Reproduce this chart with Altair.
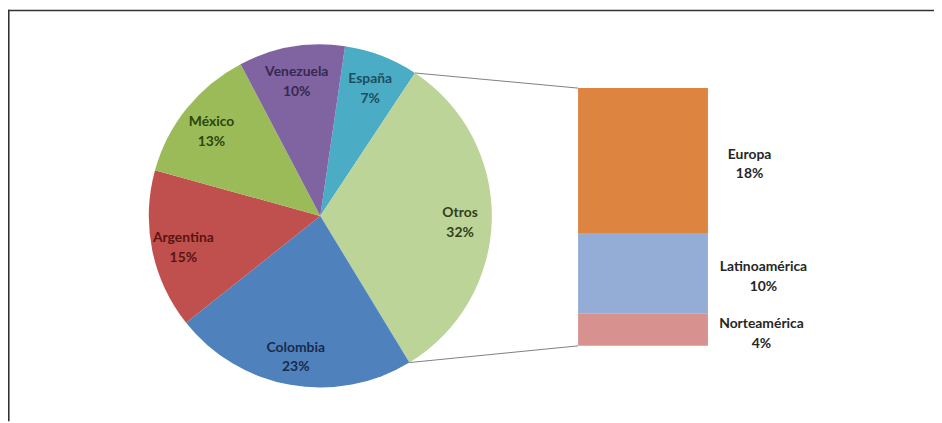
import math
import altair as alt
import pandas as pd

# ---- data ----
categories = ["España", "Otros", "Colombia", "Argentina", "México", "Venezuela"]
shares = [7, 32, 23, 15, 13, 10]
sub_categories = ["Norteamérica", "Latinoamérica", "Europa"]
sub_shares = [4, 10, 18]

# ---- style ----
pie_colors = ["#4BACC6", "#BDD498", "#4F81BD", "#C0504D", "#9BBB59", "#8064A2"]
pie_text_colors = ["#1d4f5e", "#323f1c", "#192b4a", "#5a1412", "#2b470f", "#37284f"]
bar_colors = ["#D79290", "#93ADD6", "#DD8440"]
FONT = "Lato"
FS = 14
LH = 20
W, H = 934, 415
CX, CY, R = 315, 208, 173
START_DEG = 8.3
BAR_X0, BAR_X1 = 575, 706
BAR_TOP, BAR_BOTTOM = 79, 339

pie_df = pd.DataFrame({
    "cat": categories,
    "value": shares,
    "ord": list(range(len(categories))),
    "label": [f"{c}\n{v}%" for c, v in zip(categories, shares)],
})
bar_df = pd.DataFrame({
    "cat": sub_categories,
    "value": sub_shares,
    "ord": list(range(len(sub_categories))),
    "label": [f"{c}\n{v}%" for c, v in zip(sub_categories, sub_shares)],
})

start = math.radians(START_DEG)
total = sum(shares)

theta_scale = alt.Scale(range=[start, start + 2 * math.pi], zero=True)

arcs = alt.Chart(pie_df).mark_arc(outerRadius=R).encode(
    theta=alt.Theta("value:Q", stack=True, scale=theta_scale),
    order=alt.Order("ord:Q"),
    color=alt.Color("cat:N", scale=alt.Scale(domain=categories, range=pie_colors), legend=None),
    x=alt.value(CX),
    y=alt.value(CY),
)

pie_labels = alt.Chart(pie_df).mark_text(
    radius=141, font=FONT, fontSize=FS, fontWeight="bold", lineBreak="\n",
    lineHeight=LH, align="center", baseline="middle", dy=-6,
).encode(
    theta=alt.Theta("value:Q", stack=True, scale=theta_scale),
    order=alt.Order("ord:Q"),
    text="label:N",
    color=alt.Color("cat:N", scale=alt.Scale(domain=categories, range=pie_text_colors), legend=None),
    x=alt.value(CX),
    y=alt.value(CY),
)

y_scale = alt.Scale(domain=[0, sum(sub_shares)], range=[BAR_BOTTOM, BAR_TOP], nice=False, zero=True)

bar_base = alt.Chart(bar_df).transform_stack(
    stack="value", groupby=[], as_=["y0", "y1"], sort=[alt.SortField("ord", order="ascending")]
).transform_calculate(
    mid="(datum.y0 + datum.y1) / 2",
    lx="736 + length(datum.cat) * 2",
)

bars = bar_base.mark_bar().encode(
    x=alt.value(BAR_X0),
    x2=alt.value(BAR_X1),
    y=alt.Y("y0:Q", scale=y_scale, axis=None),
    y2="y1:Q",
    color=alt.Color("cat:N", scale=alt.Scale(domain=sub_categories, range=bar_colors), legend=None),
)

bar_labels = bar_base.mark_text(
    font=FONT, fontSize=FS, fontWeight="bold", lineBreak="\n", lineHeight=LH,
    align="center", baseline="middle", color="#262626", dy=-6,
).encode(
    x=alt.X("lx:Q", scale=None, axis=None),
    y=alt.Y("mid:Q", scale=y_scale, axis=None),
    text="label:N",
)

# connector lines from pie boundaries of "Otros" to bar corners
otros_i = categories.index("Otros")
a1 = start + 2 * math.pi * sum(shares[:otros_i]) / total
a2 = start + 2 * math.pi * sum(shares[:otros_i + 1]) / total
p1 = (CX + R * math.sin(a1), CY - R * math.cos(a1))
p2 = (CX + R * math.sin(a2), CY - R * math.cos(a2))

dummy = pd.DataFrame({"k": [0]})
conn1 = alt.Chart(dummy).mark_rule(color="#7f7f7f", strokeWidth=1).encode(
    x=alt.value(p1[0]), y=alt.value(p1[1]), x2=alt.value(BAR_X0), y2=alt.value(BAR_TOP))
conn2 = alt.Chart(dummy).mark_rule(color="#7f7f7f", strokeWidth=1).encode(
    x=alt.value(p2[0]), y=alt.value(p2[1]), x2=alt.value(BAR_X0), y2=alt.value(BAR_BOTTOM))

frame_top = alt.Chart(dummy).mark_rule(color="#333333", strokeWidth=1.6).encode(
    x=alt.value(0), x2=alt.value(W), y=alt.value(0.8))
frame_left = alt.Chart(dummy).mark_rule(color="#333333", strokeWidth=1.6).encode(
    x=alt.value(0.8), y=alt.value(0), y2=alt.value(H))

chart = alt.layer(
    frame_top, frame_left, arcs, pie_labels, conn1, conn2, bars, bar_labels
).resolve_scale(color="independent").properties(
    width=W, height=H, padding=0, autosize=alt.AutoSizeParams(type="none"),
    background="white",
).configure_view(stroke=None)

chart.save("out.html", embed_options={"renderer": "svg", "actions": False})
